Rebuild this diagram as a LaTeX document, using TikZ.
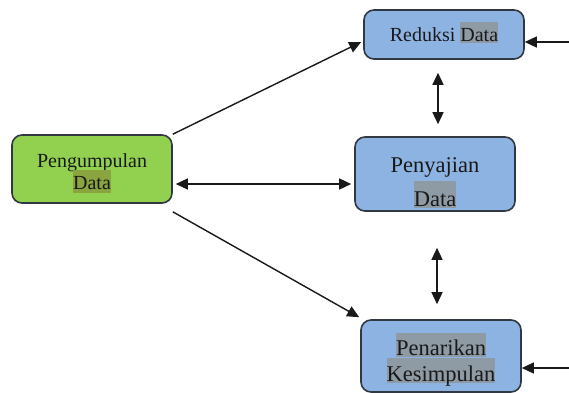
\documentclass[tikz,border=0pt]{standalone}
\usepackage{fontspec}
\setmainfont{Liberation Serif}
\usetikzlibrary{arrows.meta}
\definecolor{greenfill}{RGB}{146,208,80}
\definecolor{bluefill}{RGB}{141,179,226}
\definecolor{boxline}{RGB}{50,56,66}
\definecolor{hlgrey}{RGB}{142,154,164}
\definecolor{hlolive}{RGB}{138,164,64}
\definecolor{txt}{RGB}{25,25,25}
% highlight: colour, height above baseline, depth below baseline, text
\newcommand{\hlbox}[4]{\smash{{\setlength{\fboxsep}{0pt}\colorbox{#1}{\smash{#4}\rule[-#3]{0pt}{\dimexpr#2+#3\relax}}}}}
% stacked lines: first baseline raised by #1 above the node centre
\newcommand{\lines}[2]{\raisebox{#1}[0pt][0pt]{\begin{tabular}[t]{@{}c@{}}#2\end{tabular}}}
\begin{document}
\begin{tikzpicture}[x=1pt,y=-1pt,
  box/.style={draw=boxline, line width=1.6pt, rounded corners=10pt,
    text=txt, minimum width=160pt, inner sep=0pt},
  gbox/.style={box, fill=greenfill},
  bbox/.style={box, fill=bluefill},
  tip/.tip={Triangle[length=12pt,width=11pt]},
  arr/.style={draw=black!90, line width=1.4pt, -tip},
  darr/.style={draw=black!90, line width=1.4pt, tip-tip}
]
\useasboundingbox (0,0) rectangle (569,392);
\node[gbox, minimum height=68pt, font=\fontsize{20}{22}\selectfont] (P) at (92,169)
  {\lines{2pt}{Pengumpulan\\\hlbox{hlolive}{19pt}{4pt}{Data}}};
\node[bbox, minimum height=49pt, font=\fontsize{20}{22}\selectfont] (R) at (444,34.5)
  {\lines{-7pt}{Reduksi \hlbox{hlgrey}{19.8pt}{1.8pt}{Data}}};
\node[bbox, minimum height=74pt, font=\fontsize{22.5}{34}\selectfont] (S) at (435,174)
  {\lines{2pt}{Penyajian\\\hlbox{hlgrey}{25pt}{2pt}{Data}}};
\node[bbox, minimum height=72pt, font=\fontsize{22.5}{26}\selectfont] (K) at (441,356)
  {\lines{1pt}{\hlbox{hlgrey}{22pt}{2pt}{Penarikan}\\\hlbox{hlgrey}{23pt}{2pt}{Kesimpulan}}};
\coordinate (rin1) at (569,42);
\coordinate (rin2) at (569,368);
\draw[arr] (P.north east) -- ([xshift=-2pt,yshift=-7.5pt]R.west);
\draw[darr] ([xshift=3pt,yshift=-15pt]P.east) -- ([xshift=-3pt,yshift=-10pt]S.west);
\draw[arr] ([yshift=-8pt]P.south east) -- ([xshift=-1pt,yshift=2pt]K.north west);
\draw[darr] ([xshift=-6pt,yshift=-13pt]R.south) -- ([xshift=3pt,yshift=12pt]S.north);
\draw[darr] ([xshift=2pt,yshift=-36pt]S.south) -- ([xshift=-4pt,yshift=15pt]K.north);
\draw[arr] (rin1) -- ([yshift=-7.5pt]R.east);
\draw[arr] (rin2) -- ([yshift=-12pt]K.east);
\end{tikzpicture}
\end{document}
